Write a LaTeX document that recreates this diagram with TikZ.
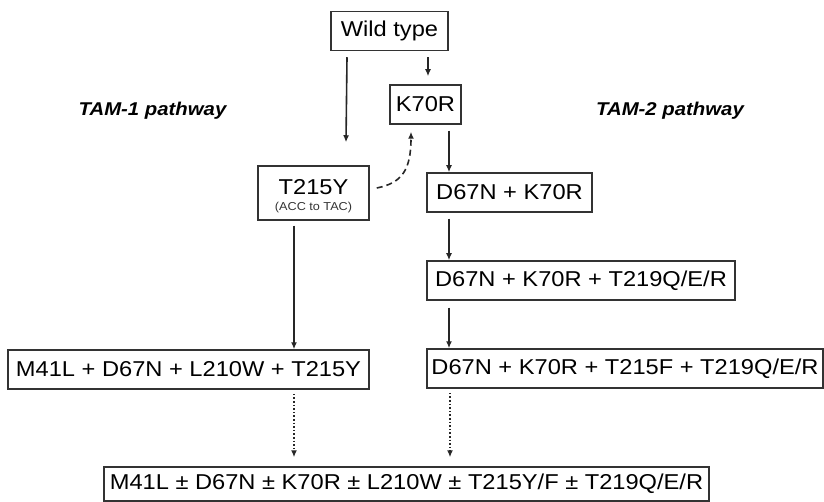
\documentclass[tikz,border=0pt]{standalone}
\usepackage{fontspec}
\setmainfont{Liberation Sans}[FakeStretch=1.1]
\usetikzlibrary{arrows.meta}
\tikzset{
  box/.style={draw=black!80, line width=1.5pt, inner sep=0pt, align=center, font=\fontsize{21.5}{24}\selectfont},
  arr/.style={draw=black!85, line width=1.6pt, -{Latex[length=7pt,width=6pt]}},
  lbl/.style={font=\fontsize{18.5}{22}\selectfont\bfseries\itshape},
}
\begin{document}
\begin{tikzpicture}[x=1pt,y=-1pt]
\useasboundingbox (0,0) rectangle (824,502);
\node[box, minimum width=117pt, minimum height=39pt] (wild) at (389.5,31) {Wild type};
\node[box, minimum width=71pt, minimum height=39pt] (k70r) at (425.5,104.5) {K70R};
\node[box, minimum width=111pt, minimum height=54pt] (t215y) at (313.5,193) {};
\node[font=\fontsize{21.5}{24}\selectfont, inner sep=0pt] (t215ytxt) at (313.5,187) {T215Y};
\node[font=\fontsize{11.5}{13}\selectfont, inner sep=0pt, text=black!80] (acc) at (313.5,208) {(ACC to TAC)};
\node[box, minimum width=165pt, minimum height=39pt] (dk) at (509.5,192.5) {D67N + K70R};
\node[box, minimum width=308pt, minimum height=39pt] (dkt) at (581,280.5) {D67N + K70R + T219Q/E/R};
\node[box, minimum width=396pt, minimum height=39pt] (dktt) at (625,368.5) {D67N + K70R + T215F + T219Q/E/R};
\node[box, minimum width=361pt, minimum height=39pt] (m41) at (188.5,369.5) {M41L + D67N + L210W + T215Y};
\node[box, minimum width=605pt, minimum height=34pt] (all) at (406.5,484) {M41L ± D67N ± K70R ± L210W ± T215Y/F ± T219Q/E/R};
\node[lbl] (tam1) at (152.5,111) {TAM-1 pathway};
\node[lbl] (tam2) at (670,111) {TAM-2 pathway};
% arrows
\draw[arr] ([xshift=-42.5pt,yshift=-6pt]wild.south) -- ([xshift=32.5pt,yshift=23pt]t215y.north);
\draw[arr] ([xshift=38.5pt,yshift=-6pt]wild.south) -- ([xshift=2.5pt,yshift=8pt]k70r.north);
\draw[arr] ([xshift=23.5pt,yshift=-6pt]k70r.south) -- ([xshift=23.5pt]k70r.south |- dk.north);
\draw[arr] ([xshift=-60.5pt,yshift=-6pt]dk.south) -- ([xshift=-60.5pt]dk.south |- dkt.north);
\draw[arr] ([xshift=-132pt,yshift=-7pt]dkt.south) -- ([xshift=-132pt]dkt.south |- dktt.north);
\draw[arr] ([xshift=-19.5pt,yshift=-5pt]t215y.south) -- ([xshift=-19.5pt]t215y.south |- m41.north);
\draw[arr, dotted] ([xshift=105.5pt,yshift=-4pt]m41.south) -- ([xshift=105.5pt,yshift=9pt]m41.south |- all.north);
\draw[arr, dotted] ([xshift=-175pt,yshift=-4pt]dktt.south) -- ([xshift=-175pt,yshift=9pt]dktt.south |- all.north);
\draw[arr, dash pattern=on 6pt off 4pt] ([xshift=7pt,yshift=5pt]t215y.east) .. controls (402,183) and (411,170) .. ([xshift=-14.5pt,yshift=-7pt]k70r.south);
\end{tikzpicture}
\end{document}
